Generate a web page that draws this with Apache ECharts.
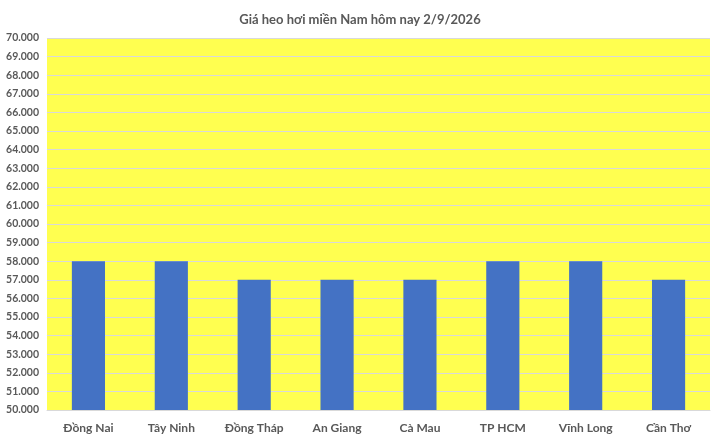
<!DOCTYPE html>
<html><head><meta charset="utf-8">
<script src="https://cdn.jsdelivr.net/npm/echarts@6/dist/echarts.min.js"></script>
<style>html,body{margin:0;padding:0;background:#fff;}#c{width:720px;height:440px;}</style>
</head><body><div id="c"></div>
<script>
const title = 'Giá heo hơi miền Nam hôm nay 2/9/2026';
const categories = ['Đồng Nai','Tây Ninh','Đồng Tháp','An Giang','Cà Mau','TP HCM','Vĩnh Long','Cần Thơ'];
const prices = [58000,58000,57000,57000,57000,58000,58000,57000];
const yMin = 50000, yMax = 70000, yStep = 1000;

const fmt = v => (v/1000).toFixed(3);
const chart = echarts.init(document.getElementById('c'));
chart.setOption({
  animation:false,
  backgroundColor:'#fff',
  textStyle:{fontFamily:'Lato'},
  title:{text:title,left:'center',top:8,textStyle:{fontFamily:'Lato',fontSize:13,fontWeight:'bold',color:'#595959'}},
  grid:{left:47,right:10,top:38,bottom:30,containLabel:false,show:true,backgroundColor:'#FFFF50',borderWidth:0},
  xAxis:{type:'category',data:categories,axisTick:{show:false},
    axisLine:{show:true,lineStyle:{color:'#d9d9d9'}},
    axisLabel:{fontFamily:'Lato',fontSize:12,fontWeight:'bold',color:'#595959',margin:12}},
  yAxis:{type:'value',min:yMin,max:yMax,interval:yStep,
    axisLine:{show:false},axisTick:{show:false},
    splitLine:{lineStyle:{color:'#d9d9d9',width:1}},
    axisLabel:{fontFamily:'Lato',fontSize:10.5,fontWeight:'bold',color:'#595959',formatter:fmt,margin:8}},
  series:[{type:'bar',data:prices,barWidth:'40%',itemStyle:{color:'#4472C4'}}]
});
</script></body></html>
